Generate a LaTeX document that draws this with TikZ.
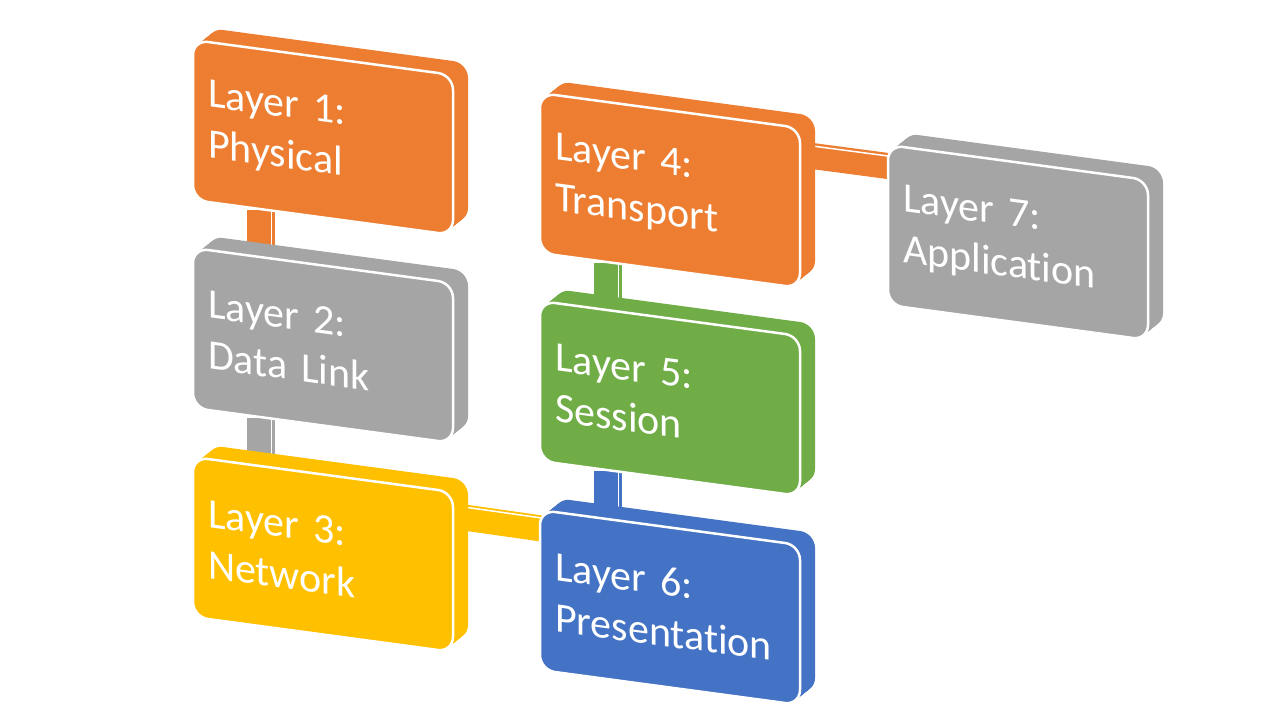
\documentclass[tikz,border=0pt]{standalone}
\usepackage{fontspec}
\setmainfont{Carlito}[Ligatures={NoCommon}]
\usetikzlibrary{calc}
\definecolor{cOrange}{HTML}{ED7D31}
\definecolor{cGray}{HTML}{A5A5A5}
\definecolor{cYellow}{HTML}{FFC000}
\definecolor{cGreen}{HTML}{70AD47}
\definecolor{cBlue}{HTML}{4472C4}
\pgfdeclarelayer{bg}
\pgfdeclarelayer{bars}
\pgfdeclarelayer{slabs}
\pgfsetlayers{bg,bars,slabs,main}
\newcommand\slabof[2]{%
  \foreach \k in {0,1,...,15}{%
    \fill[#2, shift={(#1.center)}, shift={(\k pt,0.8*\k pt)}, yslant=-0.1346, rounded corners=15pt] (-130pt,-80pt) rectangle (130pt,80pt);}}
\tikzset{
  face/.style={draw=white, line width=2.5pt, rounded corners=15pt,
    minimum width=260pt, minimum height=160pt, yslant=-0.1346,
    text width=230pt, inner xsep=15pt, inner ysep=0pt, align=left,
    text=white, font=\fontsize{42pt}{51pt}\selectfont},
  vbarline/.style={line width=28pt},
  hbarline/.style={line width=26pt},
  baredge/.style={white, line width=1.5pt}
}
\begin{document}
\begin{tikzpicture}[x=1pt,y=-1pt]
\begin{pgfonlayer}{bg}
\fill[white] (0,0) rectangle (1280,720);
\end{pgfonlayer}
\useasboundingbox (0,0) rectangle (1280,720);

\node[face, fill=cOrange] (n1) at (323,137.5) {Layer 1:\\Physical};
\node[face, fill=cGray]   (n2) at (323,345.5) {Layer 2:\\Data Link};
\node[face, fill=cYellow] (n3) at (323,554.5) {Layer 3:\\Network};
\node[face, fill=cOrange] (n4) at (670,190.5) {Layer 4:\\Transport};
\node[face, fill=cGreen]  (n5) at (670,398.5) {Layer 5:\\Session};
\node[face, fill=cBlue]   (n6) at (670,607.5) {Layer 6:\\Presentation};
\node[face, fill=cGray]   (n7) at (1018,242.5) {Layer 7:\\Application};

\begin{pgfonlayer}{slabs}
\slabof{n1}{cOrange}
\slabof{n2}{cGray}
\slabof{n3}{cYellow}
\slabof{n4}{cOrange}
\slabof{n5}{cGreen}
\slabof{n6}{cBlue}
\slabof{n7}{cGray}
\end{pgfonlayer}

\begin{pgfonlayer}{bars}
% vertical connectors
\coordinate (a12) at ($(n1.south west)!0.265!(n1.south east)$);
\coordinate (b12) at ($(n2.north west)!0.265!(n2.north east)$);
\draw[cOrange, vbarline] (a12) -- (b12);
\draw[baredge] ([xshift=10pt]a12) -- ([xshift=10pt]b12);

\coordinate (a23) at ($(n2.south west)!0.265!(n2.south east)$);
\coordinate (b23) at ($(n3.north west)!0.265!(n3.north east)$);
\draw[cGray, vbarline] (a23) -- (b23);
\draw[baredge] ([xshift=10pt]a23) -- ([xshift=10pt]b23);

\coordinate (a45) at ($(n4.south west)!0.265!(n4.south east)$);
\coordinate (b45) at ($(n5.north west)!0.265!(n5.north east)$);
\draw[cGreen, vbarline] (a45) -- (b45);
\draw[baredge] ([xshift=10pt]a45) -- ([xshift=10pt]b45);

\coordinate (a56) at ($(n5.south west)!0.265!(n5.south east)$);
\coordinate (b56) at ($(n6.north west)!0.265!(n6.north east)$);
\draw[cBlue, vbarline] (a56) -- (b56);
\draw[baredge] ([xshift=10pt]a56) -- ([xshift=10pt]b56);

% horizontal connectors
\coordinate (a36) at ($(n3.north east)!0.155!(n3.south east)$);
\coordinate (e36) at ($(n6.north west)!0.12!(n6.south west)$);
\coordinate (b36) at ($(a36)!1.15!(e36)$);
\draw[cYellow, hbarline] (a36) -- (b36);
\draw[baredge] ([yshift=10.5pt]a36) -- ([yshift=10.5pt]b36);

\coordinate (a47) at ($(n4.north east)!0.17!(n4.south east)$);
\coordinate (e47) at ($(n7.north west)!0.137!(n7.south west)$);
\coordinate (b47) at ($(a47)!1.15!(e47)$);
\draw[cOrange, hbarline] (a47) -- (b47);
\draw[baredge] ([yshift=10pt]a47) -- ([yshift=10pt]b47);
\end{pgfonlayer}
\end{tikzpicture}
\end{document}
